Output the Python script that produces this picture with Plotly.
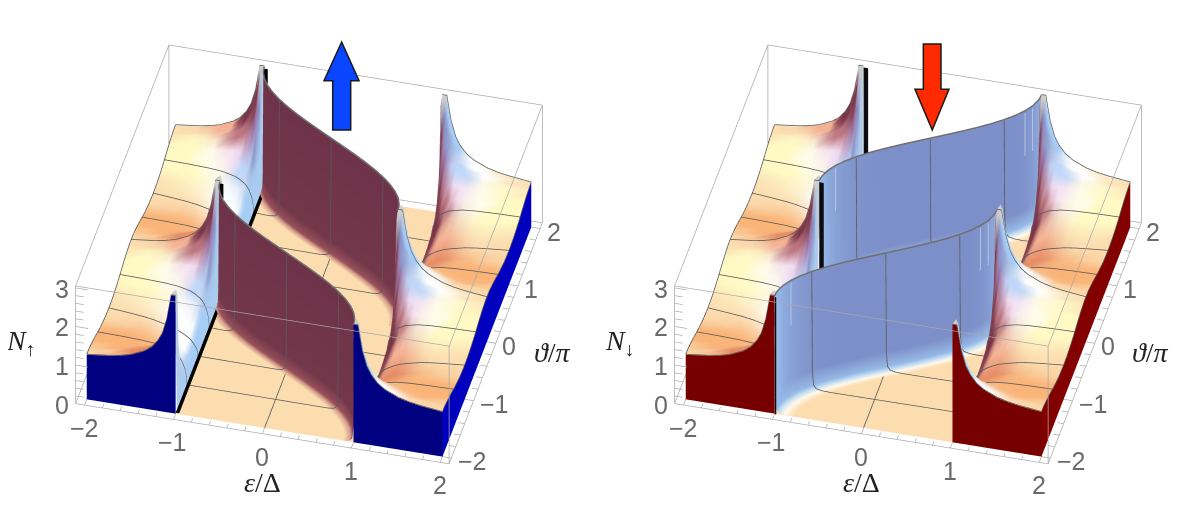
import numpy as np
import plotly.graph_objects as go

# ---------- values ----------
eps_nodes = [1.0, 1.005, 1.02, 1.05, 1.075, 1.1, 1.15, 1.2, 1.27, 1.35, 1.5, 1.62, 1.75, 2.0]
theta_half = [0.0, 0.05, 0.1, 0.15, 0.2, 0.3, 0.4, 0.5, 0.6, 0.8, 1.0]
n_table = [
    [3.05, 0.00, 0.00, 0.00, 0.00, 0.00, 0.00, 0.00, 0.00, 0.00, 0.00],
    [3.05, 3.05, 2.92, 1.56, 0.95, 0.47, 0.28, 0.20, 0.15, 0.11, 0.10],
    [3.05, 3.05, 3.05, 2.16, 1.51, 0.83, 0.53, 0.38, 0.30, 0.22, 0.20],
    [3.05, 3.05, 2.65, 2.14, 1.70, 1.09, 0.75, 0.56, 0.44, 0.33, 0.30],
    [2.72, 2.62, 2.35, 2.02, 1.69, 1.17, 0.85, 0.65, 0.52, 0.40, 0.37],
    [2.40, 2.33, 2.15, 1.91, 1.65, 1.21, 0.91, 0.71, 0.58, 0.45, 0.42],
    [2.02, 1.99, 1.88, 1.73, 1.56, 1.24, 0.98, 0.79, 0.67, 0.53, 0.49],
    [1.81, 1.78, 1.71, 1.61, 1.49, 1.23, 1.01, 0.85, 0.73, 0.59, 0.55],
    [1.62, 1.61, 1.56, 1.49, 1.40, 1.21, 1.04, 0.89, 0.78, 0.66, 0.62],
    [1.49, 1.48, 1.45, 1.40, 1.33, 1.19, 1.05, 0.93, 0.83, 0.71, 0.67],
    [1.34, 1.33, 1.32, 1.29, 1.25, 1.15, 1.05, 0.96, 0.88, 0.78, 0.75],
    [1.27, 1.27, 1.25, 1.23, 1.20, 1.13, 1.05, 0.97, 0.91, 0.82, 0.79],
    [1.22, 1.21, 1.20, 1.19, 1.16, 1.11, 1.04, 0.98, 0.92, 0.85, 0.82],
    [1.155, 1.15, 1.145, 1.13, 1.12, 1.08, 1.04, 0.99, 0.95, 0.89, 0.87],
]
wall_t = [0, .02, .05, .1, .2, .3, .4, .5, .6, .7, .8, .9, 1.0, 1.1, 1.2, 1.3, 1.4, 1.5,
          1.6, 1.7, 1.8, 1.9, 1.95, 1.98, 2.0]
wall_eps = [1.0, .9995, .997, .988, .951, .891, .809, .707, .588, .454, .309, .156, 0.0,
            -.156, -.309, -.454, -.588, -.707, -.809, -.891, -.951, -.988, -.997, -.9995, -1.0]
wall_top = 3.03
down_tint = [1, 1, 1, 1, .7, .45, .25, .1, .05, 0, 0, 0, 0, 0, 0, 0, 0, 0, 0, .1, .3, .6, .8, .9, 1]
streak_t = [.3, 1.7, 1.8]
mesh_thetas = [-1.5, -1.0, -0.5, 0.0, 0.5, 1.0, 1.5]
eps_ticks = [-2, -1, 0, 1, 2]
theta_ticks = [-2, -1, 0, 1, 2]
n_ticks = [0, 1, 2, 3]

# ---------- styling ----------
BOX_XY = [-2.1, 2.1]
BOX_Z = [0, 3.05]
RNG_XY = [-2.15, 2.15]      # axis ranges slightly outside the drawn box so nothing is clipped
RNG_Z = [-0.05, 3.12]
FIG_W, FIG_H, PAGE_M = 1192, 506, 8   # the page body has an 8 px margin
ASPECT = 1.565
FLOOR = (251, 221, 176)
CAP = (205, 205, 205)
VIEW = np.array([[.970, .242, 0], [-.156, .626, .764], [.185, -.741, .645]])
anchor_n = np.array([
    [0, .764, .645], [-.85, -.33, .39], [.51, -.55, .65], [.6, .5, .615], [.07, .92, .39],
    [-.07, .54, .83], [-.85, .32, .4], [.85, .1, .5], [-.53, .6, .6], [-.4, .85, .35],
    [-.17, .1, .97], [-.23, -.36, .9], [-.085, .37, .87], [.315, .41, .78], [.22, 0, .98],
    [-.56, .08, .83]])
anchor_n = anchor_n / np.linalg.norm(anchor_n, axis=1, keepdims=True)
anchor_c = np.array([
    FLOOR, (110, 51, 72), (129, 144, 200), (255, 255, 255), (250, 180, 120),
    (255, 250, 195), (120, 50, 70), (165, 205, 245), (245, 180, 150), (230, 140, 100),
    (245, 225, 245), (150, 110, 165), (255, 252, 235), (255, 255, 255), (190, 215, 250),
    (190, 120, 130)], float)

UP_ROWS = dict(off=[-.12, -.05, -.02, -.007, 0], z=[0, .02, .08, .4, wall_top],
               col=[FLOOR, (215, 160, 140), (150, 80, 90), (115, 55, 75), (110, 51, 72)])
DOWN_ROWS = dict(off=[.22, .11, .05, .02, .006, 0], z=[0, .01, .04, .12, .5, wall_top],
                 col=[FLOOR, (255, 250, 235), (200, 225, 245), (150, 185, 230),
                      (125, 150, 210), (125, 140, 198)])
LIGHT_BLUE = np.array((150, 185, 232))
PERI = np.array((125, 143, 200))


def shade(eps, th, z):
    ze, zt = np.gradient(z, eps, th)
    n = np.stack([-.551 * ze, -.551 * zt, np.ones_like(z)], -1)
    n /= np.linalg.norm(n, axis=-1, keepdims=True)
    v = n @ VIEW.T
    d = np.linalg.norm(v[..., None, :] - anchor_n, axis=-1) + 1e-3
    w = d ** -4
    c = (w[..., None] * anchor_c).sum(-2) / w.sum(-1, keepdims=True)
    c[z >= 3] = CAP
    return c


def grid_mesh(X, Y, Z, C):
    X, Y, Z = map(np.asarray, (X, Y, Z))
    n, m = X.shape
    idx = np.arange(n * m).reshape(n, m)
    a, b, c, d = idx[:-1, :-1].ravel(), idx[1:, :-1].ravel(), idx[1:, 1:].ravel(), idx[:-1, 1:].ravel()
    C = np.broadcast_to(np.asarray(C, float), (n, m, 3)).reshape(-1, 3)
    vc = ["rgb(%d,%d,%d)" % tuple(x) for x in np.clip(C, 0, 255).round()]
    return dict(x=X.ravel(), y=Y.ravel(), z=Z.ravel(),
                i=np.r_[a, a], j=np.r_[b, c], k=np.r_[c, d], vc=vc)


def lines(segs, color, width, scene):
    x, y, z = [], [], []
    for s in segs:
        for p in s:
            x.append(p[0]); y.append(p[1]); z.append(p[2])
        x.append(None); y.append(None); z.append(None)
    return go.Scatter3d(x=x, y=y, z=z, mode="lines", line=dict(color=color, width=width),
                        hoverinfo="skip", showlegend=False, scene=scene)


eps_r = np.array(eps_nodes)
T = np.array(n_table)
th_full, cols = [], []
for base in (-2.0, 0.0):
    for i, h in enumerate(theta_half):
        th_full.append(base + h); cols.append(i)
    for i in range(len(theta_half) - 2, 0, -1):
        th_full.append(base + 2 - theta_half[i]); cols.append(i)
th_full.append(2.0); cols.append(0)
th_full = np.array(th_full)
Z_r = T[:, cols]
eps_l = -eps_r[::-1]
Z_l = Z_r[::-1, :]
C_r = shade(eps_r, th_full, Z_r)
C_l = shade(eps_l, th_full, Z_l)


def build(panel, scene, fig):
    up = panel == "up"
    meshes = []
    for e, Z, C in ((eps_l, Z_l, C_l), (eps_r, Z_r, C_r)):
        X, Y = np.meshgrid(e, th_full, indexing="ij")
        meshes.append(grid_mesh(X, Y, Z, C))
    X, Y = np.meshgrid([-1, 1], [-2, 2], indexing="ij")
    meshes.append(grid_mesh(X, Y, np.zeros((2, 2)), FLOOR))
    front = (0, 0, 128) if up else (118, 0, 0)
    side = (0, 0, 190) if up else (130, 0, 0)
    for e, Z in ((eps_l, Z_l), (eps_r, Z_r)):
        X = np.vstack([e, e]); Y = np.full(X.shape, -2.0)
        meshes.append(grid_mesh(X, Y, np.vstack([0 * e, Z[:, 0]]), front))
    Y = np.vstack([th_full, th_full]); X = np.full(Y.shape, 2.0)
    meshes.append(grid_mesh(X, Y, np.vstack([0 * th_full, Z_r[-1, :]]), side))
    rows = UP_ROWS if up else DOWN_ROWS
    w_eps = np.array(wall_eps) * (1 if up else -1)
    t = np.array(wall_t)
    off = np.array(rows["off"])[:, None]
    wz = np.array(rows["z"])[:, None] * np.ones((1, len(t)))
    WC = np.array(rows["col"], float)[:, None, :] * np.ones((1, len(t), 1))
    if not up:
        tint = np.array(down_tint)[:, None]
        top = LIGHT_BLUE * tint + PERI * (1 - tint)
        WC[-1] = top
        WC[-2] = top
    for base in (-2.0, 0.0):
        X = np.clip(w_eps[None, :] + off, -1, 1)
        Y = (base + t)[None, :] * np.ones_like(X)
        meshes.append(grid_mesh(X, Y, wz, WC))
    if up:
        for base in (-2.0, 0.0):
            X, Y = np.meshgrid([-1.0, -.96], [base, base + 2], indexing="ij")
            meshes.append(grid_mesh(X, Y, np.full((2, 2), .025), (0, 0, 0)))
        for th0 in (0.0, 2.0):
            X = np.array([[-.995, -.955], [-.995, -.955]]); Y = np.full((2, 2), th0 - .03)
            meshes.append(grid_mesh(X, Y, [[0, 0], [3.04, 3.04]], (0, 0, 0)))
    else:
        for th0, e0, e1 in ((2.0, -.995, -.945), (0.0, -.995, -.945), (-2.0, -.995, -.98)):
            X = np.array([[e0, e1], [e0, e1]]); Y = np.full((2, 2), th0 - .01)
            meshes.append(grid_mesh(X, Y, [[0, 0], [3.04, 3.04]], (12, 12, 16)))
    xs, ys, zs, ii, jj, kk, vc, o = [], [], [], [], [], [], [], 0
    for m in meshes:
        xs.append(m["x"]); ys.append(m["y"]); zs.append(m["z"])
        ii.append(m["i"] + o); jj.append(m["j"] + o); kk.append(m["k"] + o)
        vc += m["vc"]; o += len(m["x"])
    fig.add_trace(go.Mesh3d(x=np.concatenate(xs), y=np.concatenate(ys), z=np.concatenate(zs),
                            i=np.concatenate(ii), j=np.concatenate(jj), k=np.concatenate(kk),
                            vertexcolor=vc, flatshading=True, hoverinfo="skip", showscale=False,
                            lighting=dict(ambient=1, diffuse=0, specular=0, roughness=1, fresnel=0),
                            scene=scene))
    segs = []
    lift = .015
    for th in mesh_thetas + [-2.0, 2.0]:
        j = int(np.argmin(abs(th_full - th)))
        segs.append([(e, th, z + lift) for e, z in zip(eps_l, Z_l[:, j])])
        segs.append([(e, th, z + lift) for e, z in zip(eps_r, Z_r[:, j])])
    segs.append([(-2, th, z + lift) for th, z in zip(th_full, Z_l[0, :])])
    segs.append([(2, th, z + lift) for th, z in zip(th_full, Z_r[-1, :])])
    cam = np.array([.185, -.741]) * .012
    for base in (-2.0, 0.0):
        for tt in (.5, 1.0, 1.5):
            k = wall_t.index(tt)
            th = base + tt
            eb = w_eps[k]
            path = [(eb + o_ + cam[0], th + cam[1], z_ + .005) for o_, z_ in zip(rows["off"], rows["z"])]
            far = -1 if up else 1
            segs.append([(far, th, .005)] + path)
            segs.append([(-far, th, .005), (eb, th, .005)])
    segs.append([(0, -2, .005), (0, 2, .005)])
    fig.add_trace(lines(segs, "#5a5a5a", 1.6, scene))
    if not up:
        segs = []
        for base in (-2.0, 0.0):
            for tt in streak_t:
                k = wall_t.index(tt)
                segs.append([(w_eps[k] + cam[0], base + tt + cam[1], 1.9), (w_eps[k] + cam[0], base + tt + cam[1], 3.0)])
        fig.add_trace(lines(segs, "#c4cee8", 1.5, scene))
    segs = []
    for base in (-2.0, 0.0):
        segs.append([(e, base + tt, wall_top + .02) for e, tt in zip(w_eps, t)])
    fig.add_trace(lines(segs, "#707070", 3, scene))
    a, b = BOX_XY
    c, d = BOX_Z
    box = [[(a, a, c), (b, a, c), (b, b, c), (a, b, c), (a, a, c)],
           [(a, a, d), (b, a, d), (b, b, d), (a, b, d), (a, a, d)],
           [(a, a, c), (a, a, d)], [(b, a, c), (b, a, d)], [(b, b, c), (b, b, d)], [(a, b, c), (a, b, d)]]
    ticks = []
    for v in np.arange(-2, 2.01, .2):
        major = abs(v - round(v)) < 1e-6
        L = .1 if major else .07
        ticks.append([(v, a, 0), (v, a + L, 0)])
        ticks.append([(b, v, 0), (b - L, v, 0)])
    for v in np.arange(0, 3.01, .2):
        major = abs(v - round(v)) < 1e-6
        ticks.append([(a, a, v), (a + (.14 if major else .09), a, v)])
    fig.add_trace(lines(box + ticks, "#a8a8a8", 1.4, scene))


fig = go.Figure()
build("up", "scene", fig)
build("down", "scene2", fig)

eye_r = 1.8
eye = dict(x=.185 * eye_r, y=-.741 * eye_r, z=.645 * eye_r)


def axis(rng, tv):
    return dict(range=rng, tickvals=tv, showticklabels=False,
                showbackground=False, showgrid=False, zeroline=False, showline=False, showspikes=False,
                ticks="", title=dict(text=""))


def fmt(v):
    return str(v).replace("-", "\u2212")


def tick_labels():
    font = dict(size=25, color="#6a6a6a", family="Liberation Sans")
    out = []
    a, b = BOX_XY
    for v in eps_ticks:
        out.append(dict(x=v, y=a, z=0, text=fmt(v), showarrow=False, yshift=-23, font=font))
    for v in theta_ticks:
        out.append(dict(x=b, y=v, z=0, text=fmt(v), showarrow=False, xanchor="left", xshift=5, yshift=-3, font=font))
    for v in n_ticks:
        out.append(dict(x=a, y=a, z=v, text=fmt(v), showarrow=False, xshift=-13, yshift=-1, font=font))
    return out


def scene(px0, px1):
    ax = ASPECT * (RNG_XY[1] - RNG_XY[0]) / (BOX_XY[1] - BOX_XY[0])
    az = .4 * ASPECT * (RNG_Z[1] - RNG_Z[0]) / (BOX_Z[1] - BOX_Z[0])
    return dict(domain=dict(x=[(px0 - PAGE_M) / FIG_W, (px1 - PAGE_M) / FIG_W], y=[1 - 492 / FIG_H, 1]),
                aspectmode="manual", aspectratio=dict(x=ax, y=ax, z=az),
                camera=dict(eye=eye, up=dict(x=0, y=0, z=1), center=dict(x=0, y=0, z=0),
                            projection=dict(type="orthographic")),
                xaxis=axis(RNG_XY, eps_ticks), yaxis=axis(RNG_XY, theta_ticks), zaxis=axis(RNG_Z, n_ticks),
                annotations=tick_labels())


def px(x, y):
    return (x - PAGE_M) / FIG_W, 1 - (y - PAGE_M) / FIG_H


def arrow(pts, color):
    path = "M " + " L ".join("%.4f,%.4f" % px(x, y) for x, y in pts) + " Z"
    return dict(type="path", xref="paper", yref="paper", path=path, fillcolor=color,
                line=dict(color="#1a1a1a", width=1.5), layer="above")


up_arrow = [(341.7, 42), (359, 80.7), (350.7, 80.7), (350.7, 130), (332.7, 130), (332.7, 80.7), (324, 80.7)]
down_arrow = [(932.3, 130), (949, 89.3), (941, 89.3), (941, 44), (923.3, 44), (923.3, 89.3), (915, 89.3)]


def label(text, x, y, size=28):
    fx, fy = px(x, y)
    return dict(text=text, x=fx, y=fy, xref="paper", yref="paper", showarrow=False,
                xanchor="center", yanchor="middle",
                font=dict(family="Liberation Serif", size=size, color="#222222"))


fig.update_layout(
    width=FIG_W, height=FIG_H, margin=dict(l=0, r=0, t=0, b=0), paper_bgcolor="white", showlegend=False,
    scene=scene(18.5, 598.5), scene2=scene(617.5, 1197.5),
    shapes=[arrow(up_arrow, "#0a46ff"), arrow(down_arrow, "#ff2a00")],
    annotations=[label("<i>N</i><sub>\u2191</sub>", 20, 342), label("<i>\u03b5</i>/\u0394", 262, 482),
                 label("<i>\u03d1</i>/<i>\u03c0</i>", 552, 352),
                 label("<i>N</i><sub>\u2193</sub>", 619, 342), label("<i>\u03b5</i>/\u0394", 861, 482),
                 label("<i>\u03d1</i>/<i>\u03c0</i>", 1150, 352)],
)
fig.write_html("out.html")
